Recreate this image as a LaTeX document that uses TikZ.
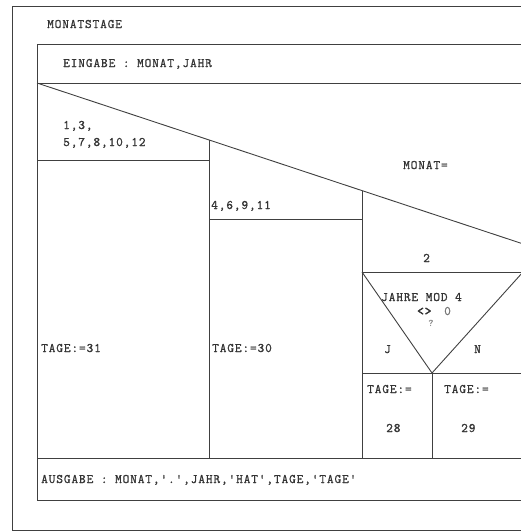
\documentclass[tikz,border=0pt]{standalone}
\usepackage{fontspec}
\newfontfamily\tw[LetterSpace=6.7,FakeBold=1]{Latin Modern Mono}
\newfontfamily\twb[LetterSpace=6.7,FakeBold=3]{Latin Modern Mono}
\begin{document}
\begin{tikzpicture}[x=1pt,y=-1pt,
  ln/.style={draw=black!75,line width=0.9pt},
  txt/.style={anchor=base west,inner sep=0pt,text=black!80,font=\fontsize{13pt}{15pt}\tw}]
\useasboundingbox (0,0) rectangle (521,531);
\clip (0,0) rectangle (521,531);
% frames
\draw[ln] (12,6) rectangle (560,530);
\draw[ln] (37,44) rectangle (523,500);
\draw[ln] (37,83) -- (523,83);
\draw[ln] (37,458) -- (523,458);
% case diagonal
\coordinate (d0) at (37,83);
\coordinate (d1) at (209,140);
\coordinate (d2) at (362,190.6);
\coordinate (d3) at (523,243.9);
\draw[ln] (d0) -- (d3);
\draw[ln] (d1) -- (209,458);
\draw[ln] (d2) -- (362,458);
\draw[ln] (37,160) -- (209,160);
\draw[ln] (209,219) -- (362,219);
\draw[ln] (362,272) -- (523,272);
% if triangle
\coordinate (apex) at (432,373);
\draw[ln] (362,272) -- (apex) -- (523,272);
\draw[ln] (362,373) -- (523,373);
\draw[ln] (apex) -- (432,458);
% texts
\node[txt] (t0) at (47,28) {MONATSTAGE};
\node[txt] (t1) at (63,67) {EINGABE : MONAT,JAHR};
\node[txt] (t2) at (63,129) {1,3,};
\node[txt] (t3) at (63,146) {5,7,8,10,12};
\node[txt] (t4) at (403,169) {MONAT=};
\node[txt] (t5) at (211,209) {4,6,9,11};
\node[txt] (t6) at (423,262) {2};
\node[txt] (t7) at (41,352) {TAGE:=31};
\node[txt] (t8) at (212,352) {TAGE:=30};
\node[txt] (t9) at (381,301) {JAHRE MOD 4};
\node[txt,font=\fontsize{13pt}{15pt}\twb] (t10) at (417,315) {<>};
\node[txt,text=black!55] (t11) at (444,315) {0};
\node[txt,text=black!45,font=\fontsize{10pt}{12pt}\tw] (t12) at (428,326) {?};
\node[txt] (t13) at (384,353) {J};
\node[txt] (t14) at (474,353) {N};
\node[txt] (t15) at (367,393) {TAGE:=};
\node[txt] (t16) at (444,393) {TAGE:=};
\node[txt] (t17) at (386,432) {28};
\node[txt] (t18) at (461,432) {29};
\node[txt] (t19) at (41,483) {AUSGABE : MONAT,'.',JAHR,'HAT',TAGE,'TAGE'};
\end{tikzpicture}
\end{document}
